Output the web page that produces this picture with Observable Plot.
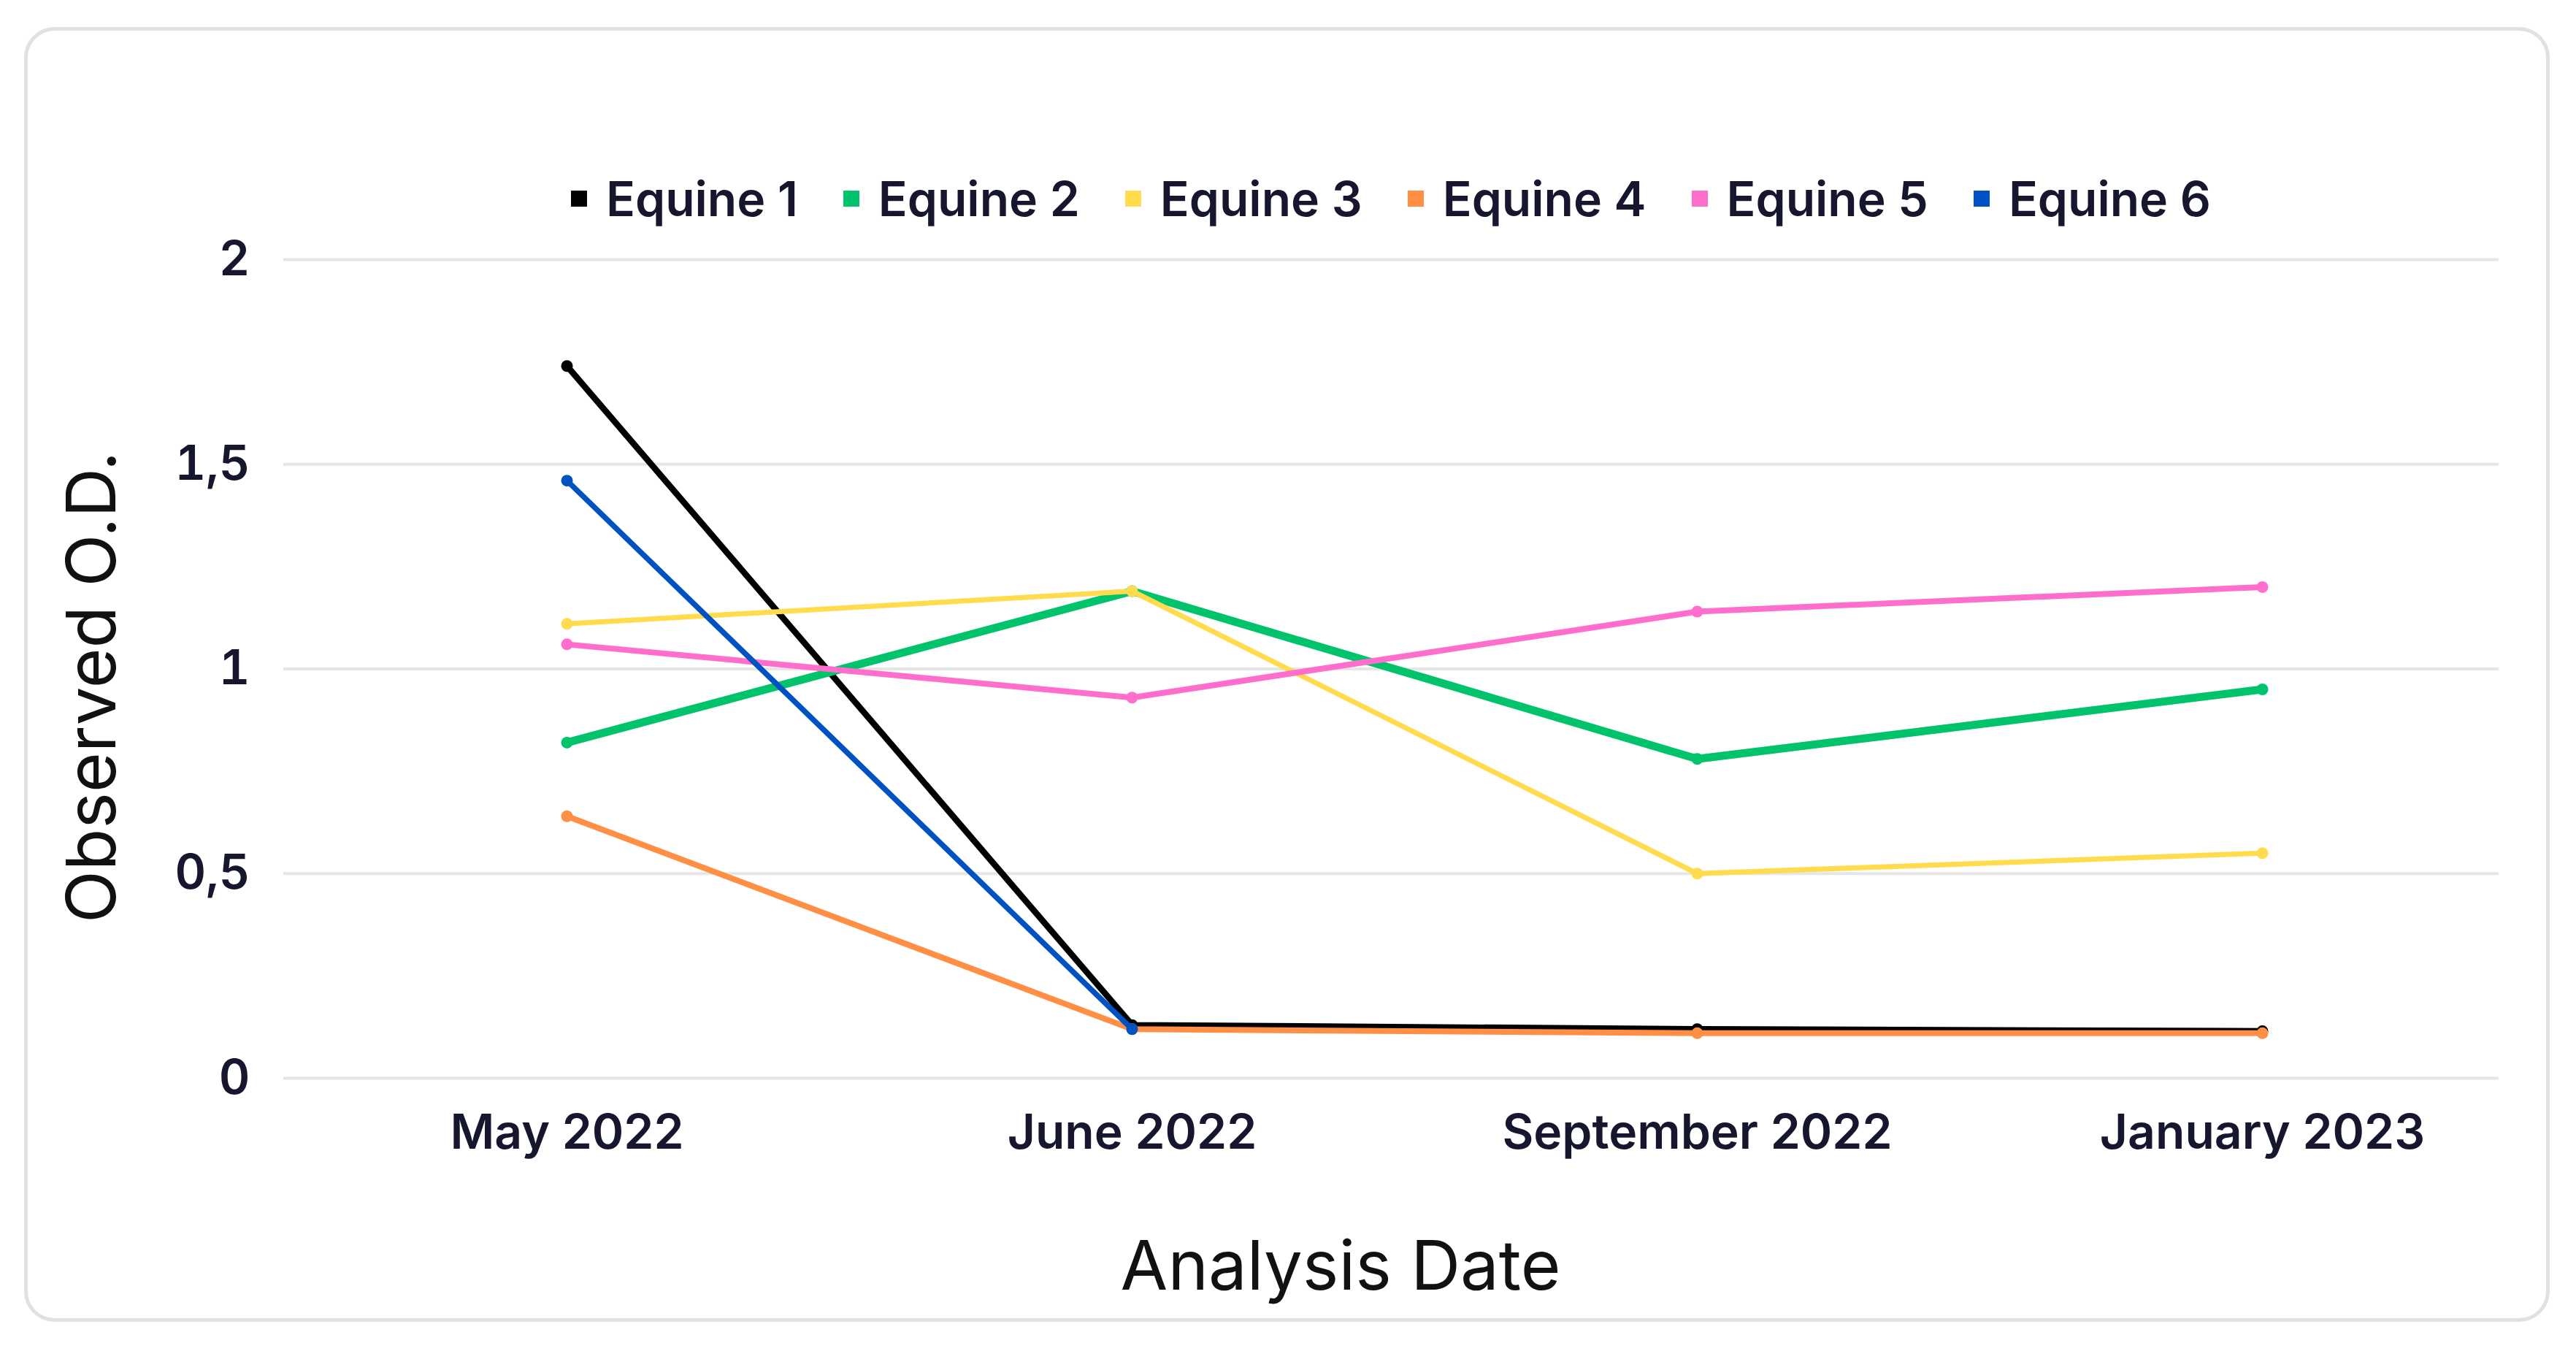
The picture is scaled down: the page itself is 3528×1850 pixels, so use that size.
<!DOCTYPE html>
<html>
<head>
<meta charset="utf-8">
<script src="https://cdn.jsdelivr.net/npm/d3@7"></script>
<script src="https://cdn.jsdelivr.net/npm/@observablehq/plot@0.6"></script>
<style>
  html, body { margin: 0; padding: 0; background: #fff; }
  #page { position: relative; width: 3528px; height: 1850px; overflow: hidden; font-family: Inter, "Open Sans", sans-serif; }
  #card { position: absolute; left: 33px; top: 37px; width: 3459px; height: 1773px; border: 5px solid #e1e1e1; border-radius: 42px; box-sizing: border-box; }
  #legend { position: absolute; left: 388px; width: 3034px; top: 232px; height: 80px; display: flex; justify-content: center; align-items: center; gap: 62px; font-size: 66px; font-weight: 600; color: #16162e; }
  .item { display: flex; align-items: center; gap: 26px; white-space: nowrap; }
  .sw { width: 22px; height: 22px; display: inline-block; }
  #chart { position: absolute; left: 0; top: 330px; }
  .title { position: absolute; font-size: 94px; font-weight: 400; color: #111; line-height: 1; white-space: nowrap; }
  #xtitle { left: 1836px; top: 1732px; transform: translate(-50%, -50%); }
  #ytitle { left: 124px; top: 941px; transform: translate(-50%, -50%) rotate(-90deg); }
</style>
</head>
<body>
<div id="page">
  <div id="card"></div>
  <div id="legend"></div>
  <div id="chart"></div>
  <div class="title" id="xtitle">Analysis Date</div>
  <div class="title" id="ytitle">Observed O.D.</div>
</div>
<script>
// ---- data ----
const dates = ["May 2022", "June 2022", "September 2022", "January 2023"];
const seriesNames = ["Equine 1", "Equine 2", "Equine 3", "Equine 4", "Equine 5", "Equine 6"];
const equine1 = [1.74, 0.13, 0.12, 0.115];
const equine2 = [0.82, 1.19, 0.78, 0.95];
const equine3 = [1.11, 1.19, 0.50, 0.55];
const equine4 = [0.64, 0.12, 0.11, 0.11];
const equine5 = [1.06, 0.93, 1.14, 1.20];
const equine6 = [1.46, 0.12, null, null];
const yTicks = [0, 0.5, 1, 1.5, 2];

// ---- styles ----
const colors = ["#000000", "#00c36b", "#ffdb4d", "#ff8f45", "#ff6dcd", "#0052c2"];
const widths = [8.5, 11, 7, 8, 8, 7.5];

const allSeries = [equine1, equine2, equine3, equine4, equine5, equine6];
const rows = [];
allSeries.forEach((vals, si) => {
  vals.forEach((v, di) => {
    if (v != null) rows.push({series: seriesNames[si], date: dates[di], value: v});
  });
});

// legend
const legend = document.getElementById("legend");
seriesNames.forEach((name, i) => {
  const item = document.createElement("div");
  item.className = "item";
  const sw = document.createElement("span");
  sw.className = "sw";
  sw.style.background = colors[i];
  const label = document.createElement("span");
  label.textContent = name;
  item.appendChild(sw);
  item.appendChild(label);
  legend.appendChild(item);
});

const seriesMarks = [];
seriesNames.forEach((name, i) => {
  const sub = rows.filter(d => d.series === name);
  seriesMarks.push(Plot.line(sub, {x: "date", y: "value", stroke: "series", strokeWidth: widths[i], strokeLinejoin: "round", strokeLinecap: "round"}));
  seriesMarks.push(Plot.dot(sub, {x: "date", y: "value", fill: "series", r: 8}));
});

const chart = Plot.plot({
  width: 3528,
  height: 1520,
  marginLeft: 388,
  marginRight: 106,
  marginTop: 25,
  marginBottom: 374,
  style: {fontFamily: "Inter, 'Open Sans', sans-serif", fontSize: "66px", color: "#16162e", background: "transparent", overflow: "visible"},
  x: {type: "point", domain: dates, padding: 0, insetLeft: 388, insetRight: 324, label: null},
  y: {domain: [0, 2], label: null},
  color: {domain: seriesNames, range: colors},
  marks: [
    Plot.gridY(yTicks, {stroke: "#e6e6e6", strokeOpacity: 1, strokeWidth: 4}),
    Plot.axisX({tickSize: 0, tickPadding: 50, fontWeight: 600, label: null}),
    Plot.axisY(yTicks, {tickSize: 0, tickPadding: 46, fontWeight: 600, label: null, tickFormat: d => String(d).replace(".", ",")}),
    ...seriesMarks
  ]
});
document.getElementById("chart").appendChild(chart);
</script>
</body>
</html>
